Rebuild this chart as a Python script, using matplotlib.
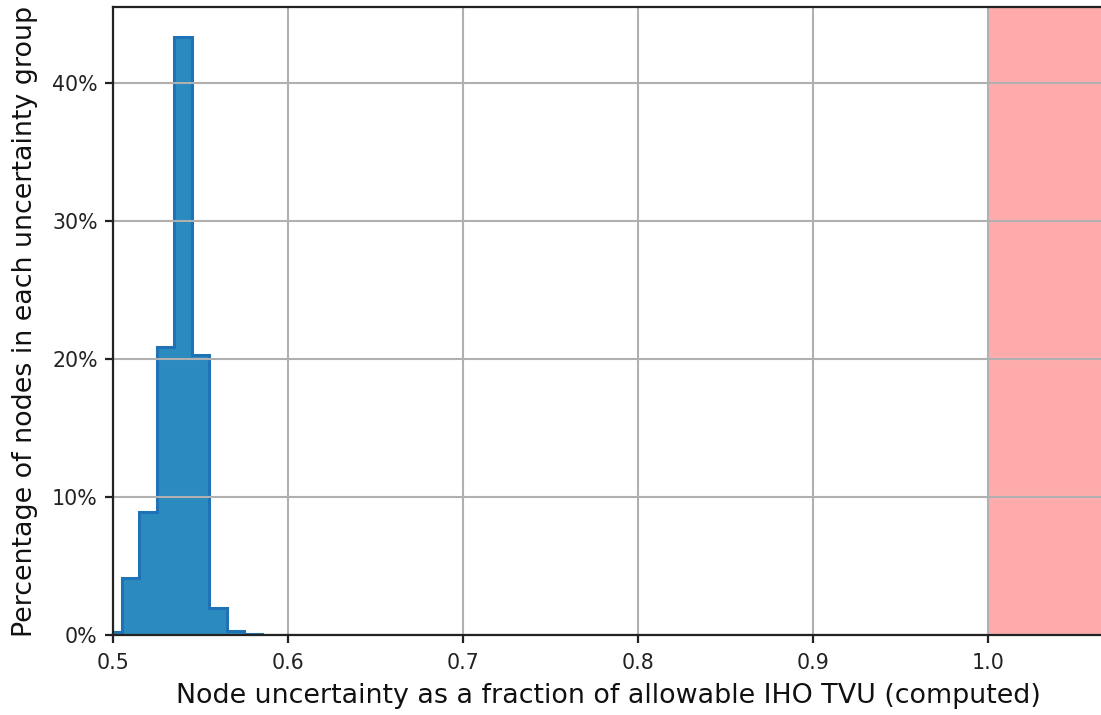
import numpy as np
import matplotlib
matplotlib.use("Agg")
import matplotlib.pyplot as plt
from matplotlib.ticker import PercentFormatter

# uncertainty-group bin centres and share of nodes in each (percent)
bin_centres = [0.50, 0.51, 0.52, 0.53, 0.54, 0.55, 0.56, 0.57, 0.58]
node_pct = [0.2, 4.1, 8.9, 20.9, 43.3, 20.3, 1.95, 0.3, 0.1]
bin_width = 0.01
tvu_limit = 1.0

fig = plt.figure(figsize=(11.01, 7.15), dpi=100)
ax = fig.add_axes([0.1026, 0.1119, 0.9004, 0.8783])

edges = np.append(np.array(bin_centres) - bin_width / 2,
                  bin_centres[-1] + bin_width / 2)
ax.hist(bin_centres, bins=edges, weights=node_pct, histtype='stepfilled',
        facecolor='#2b8bbf', edgecolor='#1f72b5', linewidth=2.2)

# anything above the allowable TVU is out of spec
ax.axvspan(tvu_limit, 2.0, color='red', alpha=0.33, lw=0)

ax.set_xlim(0.5, 1.0665)
ax.set_ylim(0, 45.5)
ax.set_xticks([0.5, 0.6, 0.7, 0.8, 0.9, 1.0])
ax.set_yticks([0, 10, 20, 30, 40])
ax.yaxis.set_major_formatter(PercentFormatter(decimals=0))
ax.grid(True, color='#b0b0b0', linewidth=1.5)

for s in ax.spines.values():
    s.set_linewidth(1.6)
    s.set_color('#222222')
ax.tick_params(labelsize=14.8, length=6, width=1.6, color='#222222',
               labelcolor='#222222')
ax.tick_params(axis='x', pad=7)
ax.tick_params(axis='y', pad=5)

ax.set_xlabel('Node uncertainty as a fraction of allowable IHO TVU (computed)',
              fontsize=19.4, labelpad=7, color='#111111')
ax.set_ylabel('Percentage of nodes in each uncertainty group', fontsize=19.4,
              labelpad=10, color='#111111')

fig.savefig('out.png', dpi=100)
